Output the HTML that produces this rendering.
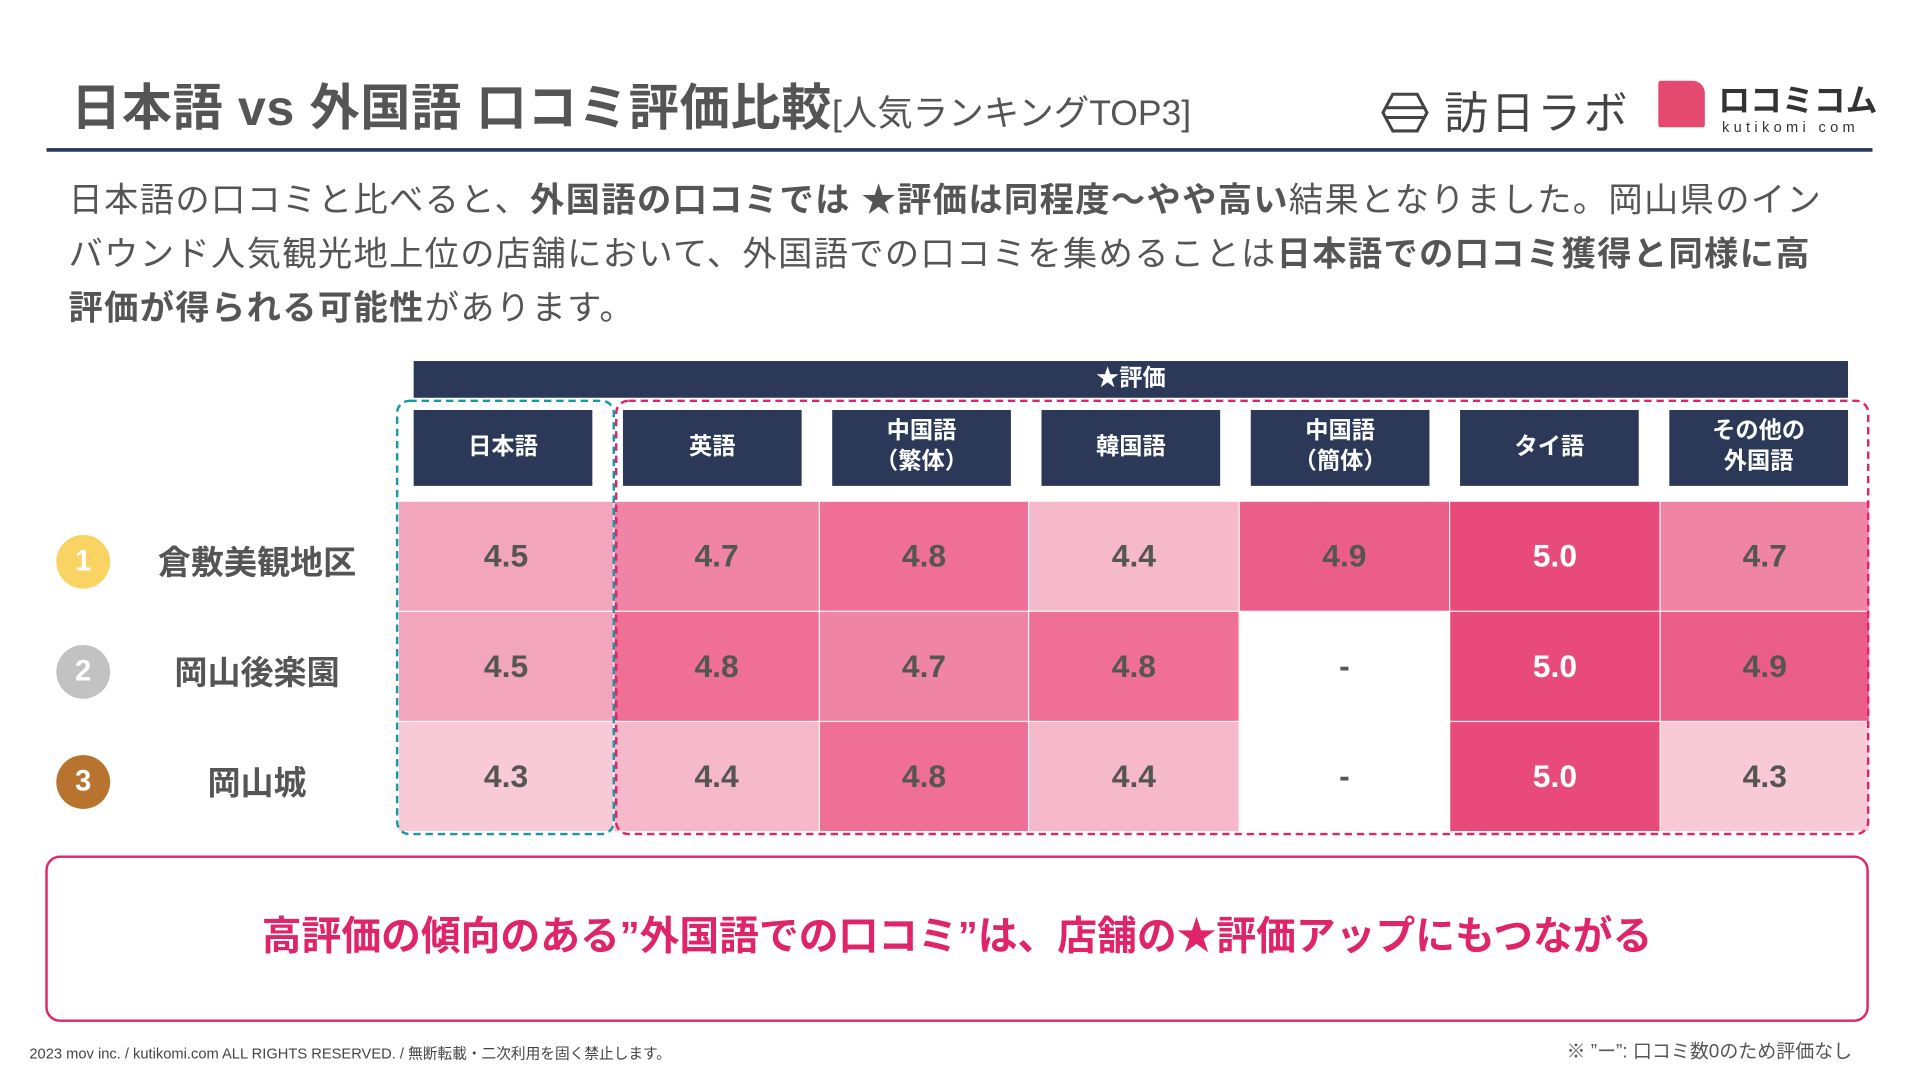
<!DOCTYPE html>
<html lang="ja"><head><meta charset="utf-8">
<style>
html,body{margin:0;padding:0;background:#fff;width:1919px;height:1080px;overflow:hidden}
#stage{position:absolute;left:0;top:0;width:1568px;height:882px;transform:scale(1.22385);transform-origin:0 0;font-family:"Liberation Sans","Noto Sans CJK JP",sans-serif;color:#555}
.abs{position:absolute}
.hdr{position:absolute;background:#2b3857;color:#fff;font-weight:bold;font-size:19px;display:flex;align-items:center;justify-content:center;text-align:center;line-height:1.3}
.cell{position:absolute;display:flex;align-items:center;justify-content:center;font-size:26px;font-weight:bold;color:#555;box-sizing:border-box;border-right:1px solid #fff;border-bottom:1px solid #fff}
.rank{position:absolute;width:44px;height:44px;border-radius:50%;color:#fff;font-size:24px;font-weight:bold;display:flex;align-items:center;justify-content:center}
.name{position:absolute;width:200px;text-align:center;font-size:27px;font-weight:bold;color:#555}
.desc{margin:0;left:56px;font-size:28px;letter-spacing:1.1px;line-height:44px;color:#555;white-space:nowrap}
</style></head><body>
<div id="stage">
  <div class="abs" style="left:58px;top:54px;font-size:41px;font-weight:bold;color:#555;white-space:nowrap;letter-spacing:0.5px">日本語 vs 外国語 口コミ評価比較<span style="font-size:29px;font-weight:normal;letter-spacing:0">[人気ランキングTOP3]</span></div>
  <div class="abs" style="left:1128px;top:64px;white-space:nowrap;font-size:36px;color:#444;letter-spacing:2px">
    <svg width="40" height="34" viewBox="0 0 40 34" style="vertical-align:-4px"><polygon points="10,2 30,2 38,17 30,32 10,32 2,17" fill="none" stroke="#444" stroke-width="2.5"/><line x1="4" y1="13" x2="36" y2="13" stroke="#444" stroke-width="2.5"/><line x1="4" y1="21" x2="36" y2="21" stroke="#444" stroke-width="2.5"/></svg> 訪日ラボ</div>
  <div class="abs" style="left:1355px;top:66px;width:38px;height:38px;background:#e4496f;border-radius:2px 10px 2px 2px"></div>
  <div class="abs" style="left:1404px;top:62px;font-size:26px;font-weight:bold;color:#333;white-space:nowrap">ロコミコム</div>
  <div class="abs" style="left:1407px;top:97px;font-size:12px;color:#333;letter-spacing:3.5px;white-space:nowrap">kutikomi com</div>
  <div class="abs" style="left:38px;top:121px;width:1492px;height:3px;background:#2b3857"></div>
  <div class="abs desc" style="top:142px">日本語の口コミと比べると、<b>外国語の口コミでは ★評価は同程度〜やや高い</b>結果となりました。岡山県のイン</div>
  <div class="abs desc" style="top:186px">バウンド人気観光地上位の店舗において、外国語での口コミを集めることは<b>日本語での口コミ獲得と同様に高</b></div>
  <div class="abs desc" style="top:230px"><b>評価が得られる可能性</b>があります。</div>
  <div class="hdr" style="left:338px;top:295px;width:1172px;height:30px">★評価</div>
  <div id="grid"></div>
  <svg class="abs" style="left:0;top:0" width="1568" height="882">
    <rect x="324.5" y="327.5" width="177" height="354" rx="10" fill="none" stroke="#159aa3" stroke-width="2" stroke-dasharray="6,4"/>
    <rect x="503.5" y="327.5" width="1023" height="354" rx="10" fill="none" stroke="#e0246a" stroke-width="2" stroke-dasharray="6,4"/>
  </svg>
  <div class="abs" style="left:37px;top:699px;width:1490px;height:136px;box-sizing:border-box;border:2.5px solid #e0246a;border-radius:12px;display:flex;align-items:center;justify-content:center;font-size:32.5px;font-weight:bold;color:#e0246a;padding-bottom:10px;white-space:nowrap">高評価の傾向のある”外国語での口コミ”は、店舗の★評価アップにもつながる</div>
  <div class="abs" style="left:24px;top:852px;font-size:12px;color:#444;white-space:nowrap">2023 mov inc. / kutikomi.com ALL RIGHTS RESERVED. / 無断転載・二次利用を固く禁止します。</div>
  <div class="abs" style="left:1280px;top:847px;font-size:15.5px;color:#555;white-space:nowrap">※ ”ー”: 口コミ数0のため評価なし</div>
</div>
<script>
const columns = ["日本語","英語","中国語<br>（繁体）","韓国語","中国語<br>（簡体）","タイ語","その他の<br>外国語"];
const places = ["倉敷美観地区","岡山後楽園","岡山城"];
const rowKurashiki = [4.5,4.7,4.8,4.4,4.9,5.0,4.7];
const rowKorakuen = [4.5,4.8,4.7,4.8,null,5.0,4.9];
const rowCastle = [4.3,4.4,4.8,4.4,null,5.0,4.3];
const values = [rowKurashiki,rowKorakuen,rowCastle];
const rankColors = ["#f9d463","#c2c2c2","#b8732e"];

const g = document.getElementById('grid');
const cellLefts = [326,502,670,841,1013,1185,1357,1528];
function colX(i){return cellLefts[i];}
function rowY(r){return 410 + r*90;}
function color(v){
  if(v===null) return '#fff';
  const stops={'5.0':'#e84a7c','4.9':'#ec5e8a','4.8':'#ef6f96','4.7':'#f084a6','4.6':'#f195b1','4.5':'#f2a5bd','4.4':'#f6b8cb','4.3':'#f8c9d7'};
  if(v>=5) return stops['5.0'];
  return stops[v.toFixed(1)] || '#f8c9d7';
}
columns.forEach((c,i)=>{
  const d=document.createElement('div');
  d.className='hdr';
  
  
  d.style.left=(338+i*171)+'px';d.style.top='335px';d.style.width='146px';d.style.height='62px';
  d.innerHTML=c;g.appendChild(d);
});
places.forEach((p,r)=>{
  const y=rowY(r);
  const rk=document.createElement('div');
  rk.className='rank';
  
  
  rk.style.left='46px';rk.style.top=(y+27)+'px';rk.style.background=rankColors[r];rk.textContent=r+1;
  g.appendChild(rk);
  const nm=document.createElement('div');
  nm.className='name';
  
  
  nm.style.left='110px';nm.style.top=(y+28)+'px';nm.textContent=p;
  g.appendChild(nm);
  values[r].forEach((v,i)=>{
    const c=document.createElement('div');
    c.className='cell';
    
    
    c.style.left=colX(i)+'px';c.style.top=y+'px';
    c.style.width=(colX(i+1)-colX(i))+'px';c.style.height='90px';
    c.style.background=color(v);
    if(v!==null && v>=5.0) c.style.color='#fff';
    c.textContent = v===null ? '-' : v.toFixed(1);
    g.appendChild(c);
  });
});
</script>
</body></html>
